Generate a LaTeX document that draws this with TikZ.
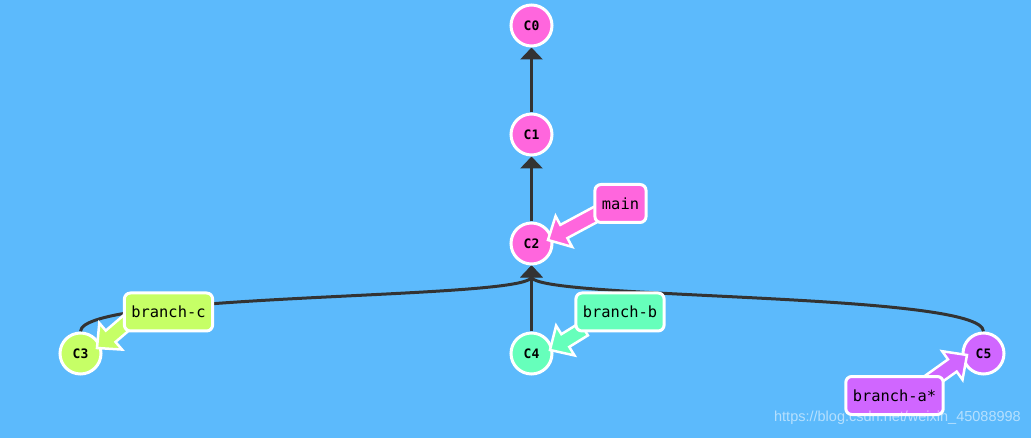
\documentclass[tikz,border=0pt]{standalone}
\usepackage{fontspec}
\setmonofont{DejaVu Sans Mono}
\newfontfamily\wmfont{Liberation Sans}
\usetikzlibrary{arrows.meta,calc}
\definecolor{bgblue}{HTML}{5CBAFC}
\definecolor{cpink}{HTML}{FF66DD}
\definecolor{cgreen}{HTML}{C6FF66}
\definecolor{cmint}{HTML}{66FFBB}
\definecolor{cpurple}{HTML}{D066FF}
\definecolor{edgegray}{HTML}{333333}
\pgfdeclarelayer{bg}
\pgfdeclarelayer{fa}
\pgfdeclarelayer{top}
\pgfsetlayers{bg,main,fa,top}
\tikzset{
  commit/.style={circle, draw=white, line width=3pt, minimum size=41pt, inner sep=0pt,
    font=\fontsize{13pt}{15pt}\selectfont\ttfamily\bfseries},
  blabel/.style={rounded corners=6pt, draw=white, line width=3pt, minimum height=38pt,
    inner xsep=7pt, inner ysep=0pt, font=\fontsize{15.4pt}{18pt}\selectfont\ttfamily},
  edge/.style={draw=edgegray, line width=3pt, -{Triangle[width=22pt,length=12pt]}},
  fat/.style={draw=white, line width=2.5pt, line join=miter}
}
\newcommand\fatarrow[3]{%
  \path ($(#3)!18pt!(#2)$) coordinate (fab);
  \filldraw[fat, fill=#1]
    ($(#2)!7.5pt!90:(#3)$) -- ($(fab)!7.5pt!90:(#3)$) -- ($(fab)!17.5pt!90:(#3)$) -- (#3)
    -- ($(fab)!17.5pt!-90:(#3)$) -- ($(fab)!7.5pt!-90:(#3)$) -- ($(#2)!7.5pt!-90:(#3)$) -- cycle;
}
\begin{document}
\begin{tikzpicture}[x=1pt,y=-1pt]
\begin{pgfonlayer}{bg}
\fill[bgblue] (0,0) rectangle (1031,438);
\end{pgfonlayer}
\useasboundingbox (0,0) rectangle (1031,438);
% commits
\node[commit, fill=cpink] (c0) at (531.5,25.5) {C0};
\node[commit, fill=cpink] (c1) at (531.5,134.5) {C1};
\node[commit, fill=cpink] (c2) at (531.5,243.5) {C2};
\node[commit, fill=cgreen] (c3) at (80.5,353.5) {C3};
\node[commit, fill=cmint] (c4) at (531.5,353.5) {C4};
\node[commit, fill=cpurple] (c5) at (983.5,353.5) {C5};
% edges
\begin{pgfonlayer}{bg}
\draw[edge] (c1) -- (c0);
\draw[edge] (c2) -- (c1);
\draw[edge] (c4) -- (c2);
\draw[edge] (c3.north) .. controls (80.5,292) and (531.5,300) .. (c2.south);
\draw[edge] (c5.north) .. controls (983.5,292) and (531.5,300) .. (c2.south);
\end{pgfonlayer}
% branch labels
\begin{pgfonlayer}{top}
\node[blabel, fill=cpink] (lmain) at (620.5,203.5) {main};
\node[blabel, fill=cgreen] (lc) at (168.5,312) {branch-c};
\node[blabel, fill=cmint] (lb) at (620,312) {branch-b};
\node[blabel, fill=cpurple] (la) at (894.5,395.5) {branch-a*};
\end{pgfonlayer}
% branch pointers
\coordinate (mainS) at (602,211);
\coordinate (mainT) at (548,240);
\coordinate (cS) at (132,318);
\coordinate (cT) at (97,348);
\coordinate (bS) at (584,329);
\coordinate (bT) at (550,350);
\coordinate (aS) at (925,385);
\coordinate (aT) at (967,355);
\begin{pgfonlayer}{fa}
\fatarrow{cpink}{mainS}{mainT}
\fatarrow{cgreen}{cS}{cT}
\fatarrow{cmint}{bS}{bT}
\fatarrow{cpurple}{aS}{aT}
\end{pgfonlayer}
% watermark
\begin{pgfonlayer}{top}
\node[anchor=east, text=white, opacity=0.55, font=\fontsize{14.5pt}{16pt}\selectfont\wmfont, inner sep=0pt] (wm) at (1021,418) {https://blog.csdn.net/weixin\_45088998};
\end{pgfonlayer}
\end{tikzpicture}
\end{document}
